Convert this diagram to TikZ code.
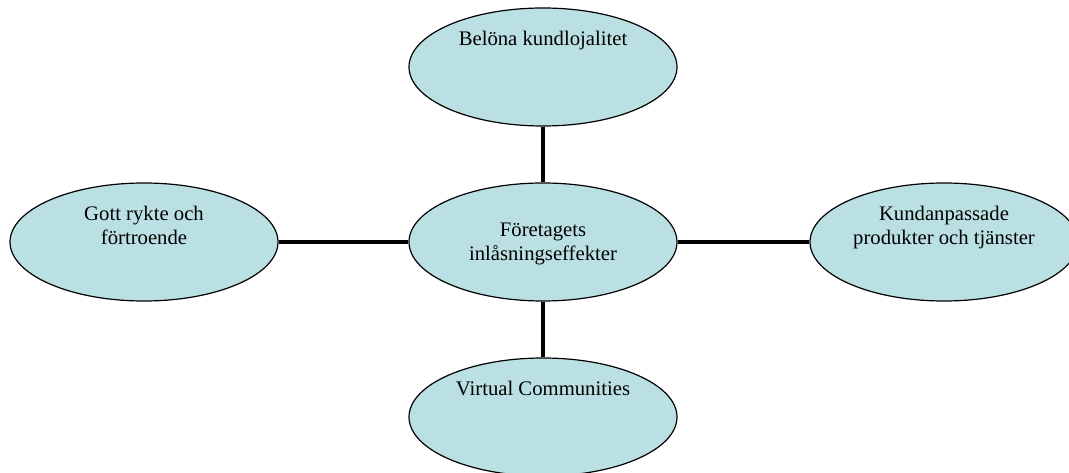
\documentclass[tikz,border=0pt]{standalone}
\usepackage{fontspec}
\setmainfont{Liberation Serif}
\usetikzlibrary{shapes.geometric,positioning}
\definecolor{bubblefill}{RGB}{187,224,227}

\begin{document}
\begin{tikzpicture}[x=1pt, y=-1pt,
  bubble/.style={ellipse, draw, fill=bubblefill, line width=1.2pt, minimum width=268pt, minimum height=118pt, inner sep=0pt},
  lbl/.style={align=center, inner sep=0pt, font=\fontsize{20.7}{23.5}\selectfont},
  link/.style={line width=4pt}]
\useasboundingbox (0,0) rectangle (1069,473);
\clip (0,0) rectangle (1069,473);
\node[bubble] (mid) at (543, 242) {};
\node[bubble] (top) at (543, 67) {};
\node[bubble] (bot) at (543, 417) {};
\node[bubble] (left) at (144, 242) {};
\node[bubble] (right) at (944, 242) {};
\draw[link] (top) -- (mid);
\draw[link] (mid) -- (bot);
\draw[link] (left) -- (mid);
\draw[link] (mid) -- (right);
\node[lbl] (midtext) at (543, 244) {Företagets\\inlåsningseffekter};
\node[lbl, below=24pt of top.north] (toptext) {Belöna kundlojalitet};
\node[lbl, below=24pt of bot.north] (bottext) {Virtual Communities};
\node[lbl, below=24pt of left.north] (lefttext) {Gott rykte och\\förtroende};
\node[lbl, below=24pt of right.north] (righttext) {Kundanpassade\\produkter och tjänster};
\end{tikzpicture}
\end{document}
